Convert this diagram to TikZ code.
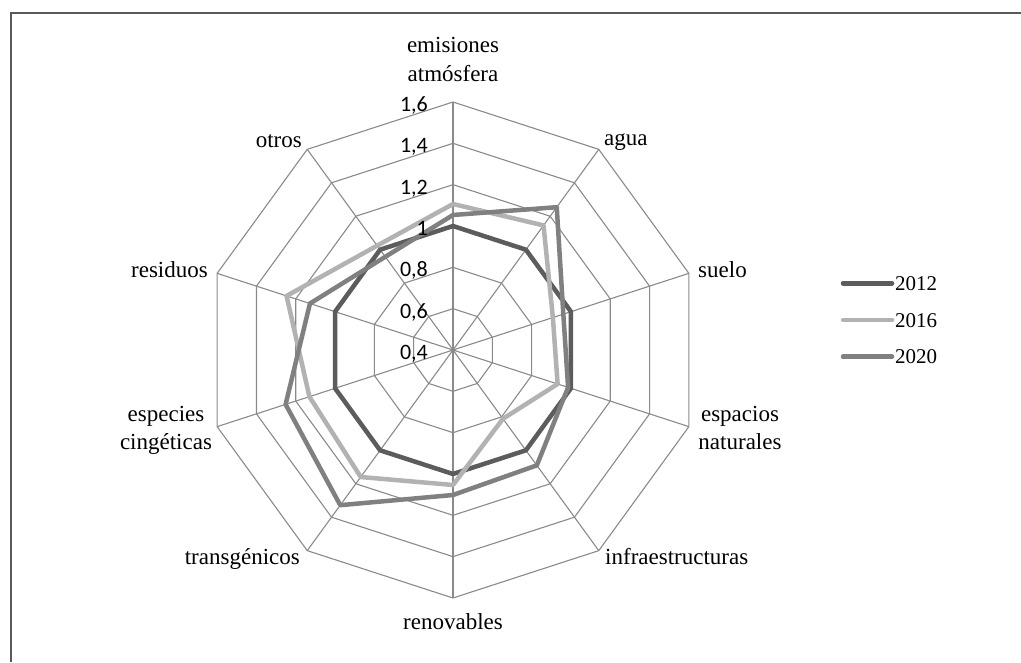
\documentclass[tikz,border=0pt]{standalone}
\usepackage{fontspec}
\setmainfont{Liberation Serif}
\newfontfamily\numfont{Carlito}
\definecolor{gridgray}{HTML}{8A8A8A}
\definecolor{framegray}{HTML}{595959}
\definecolor{cA}{HTML}{5C5C5C}
\definecolor{cB}{HTML}{B2B2B2}
\definecolor{cC}{HTML}{808080}
\begin{document}
\begin{tikzpicture}[x=1pt,y=1pt,
  gridline/.style={draw=gridgray, line width=1.1pt},
  series/.style={line width=4.5pt, line join=round},
  legline/.style={line width=4.5pt, line cap=round},
  cat/.style={font=\fontsize{23}{27}\selectfont, inner sep=0pt},
  val/.style={font=\numfont\fontsize{22}{26}\selectfont, inner sep=0pt, anchor=base east},
  leg/.style={font=\fontsize{21}{25}\selectfont, inner sep=0pt, anchor=base west}]
\useasboundingbox (0,0) rectangle (1021,662);
\draw[framegray, line width=1.5pt] (11,0) -- (11,649) -- (1021,649);
\begin{scope}[shift={(453,312)}]
  \coordinate (C) at (0,0);
  \foreach \k in {1,...,6} {
    \draw[gridline] (90:{\k*41.333}) \foreach \i in {1,...,9} { -- ({90-36*\i}:{\k*41.333}) } -- cycle;
  }
  \foreach \i in {0,...,9} { \draw[gridline] (C) -- ({90-36*\i}:248); }
  % 2012
  \draw[series, draw=cA] (90:124) -- (54:124) -- (18:124) -- (-18:124) -- (-54:124)
     -- (-90:124) -- (-126:124) -- (-162:124) -- (162:124) -- (126:124) -- cycle;
  % 2016
  \draw[series, draw=cB] (90:146) -- (54:154) -- (18:105) -- (-18:110) -- (-54:85)
     -- (-90:135) -- (-126:157) -- (-162:151) -- (162:175) -- (126:129) -- cycle;
  % 2020
  \draw[series, draw=cC] (90:135) -- (54:176.5) -- (18:116) -- (-18:121) -- (-54:142.6)
     -- (-90:145) -- (-126:191.8) -- (-162:176) -- (162:150.4) -- (126:115.2) -- cycle;
\end{scope}
% value labels
\node[val] (v04) at (428,{302.6+0*41.333}) {0,4};
\node[val] (v06) at (428,{302.6+1*41.333}) {0,6};
\node[val] (v08) at (428,{302.6+2*41.333}) {0,8};
\node[val] (v10) at (428,{302.6+3*41.333}) {1};
\node[val] (v12) at (428,{302.6+4*41.333}) {1,2};
\node[val] (v14) at (428,{302.6+5*41.333}) {1,4};
\node[val] (v16) at (428,{302.6+6*41.333}) {1,6};
% category labels
\node[cat, anchor=base] (emis1) at (453,609.3) {emisiones};
\node[cat, anchor=base] (emis2) at (453,580.3) {atmósfera};
\node[cat, anchor=base west] (agua) at (604,516) {agua};
\node[cat, anchor=base west] (suelo) at (698,384.7) {suelo};
\node[cat, anchor=base] (esp1) at (740,240.3) {espacios};
\node[cat, anchor=base] (esp2) at (740,212) {naturales};
\node[cat, anchor=base west] (infra) at (605,97) {infraestructuras};
\node[cat, anchor=base] (renov) at (453,32) {renovables};
\node[cat, anchor=base east] (transg) at (300,97) {transgénicos};
\node[cat, anchor=base] (espc1) at (166,240.3) {especies};
\node[cat, anchor=base] (espc2) at (166,212) {cingéticas};
\node[cat, anchor=base east] (resid) at (208,384.7) {residuos};
\node[cat, anchor=base east] (otros) at (302,514.7) {otros};
% legend
\coordinate (l1a) at (843,378.7); \coordinate (l1b) at (892,378.7);
\coordinate (l2a) at (843,342);   \coordinate (l2b) at (892,342);
\coordinate (l3a) at (843,305.3); \coordinate (l3b) at (892,305.3);
\draw[legline, draw=cA] (l1a) -- (l1b);
\draw[legline, draw=cB] (l2a) -- (l2b);
\draw[legline, draw=cC] (l3a) -- (l3b);
\node[leg] (t1) at (895,371.3) {2012};
\node[leg] (t2) at (895,334.7) {2016};
\node[leg] (t3) at (895,298) {2020};
\end{tikzpicture}
\end{document}
